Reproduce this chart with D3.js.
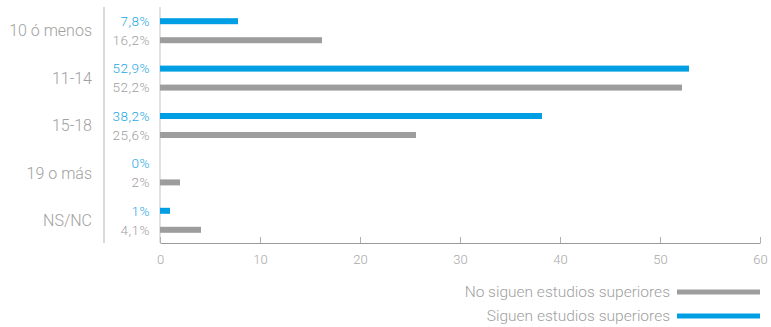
<!DOCTYPE html>
<html>
<head>
<meta charset="utf-8">
<script src="https://cdn.jsdelivr.net/npm/d3@7"></script>
<style>
  html, body { margin: 0; padding: 0; background: #fff; }
  svg { display: block; font-family: Roboto, "Liberation Sans", sans-serif; font-weight: 300; }
</style>
</head>
<body>
<svg id="chart" width="771" height="327"></svg>
<script>
// Age groups and the share (%) in each, for the two series
const categories = ["10 ó menos", "11-14", "15-18", "19 o más", "NS/NC"];
const siguen = [7.8, 52.9, 38.2, 0, 1];
const noSiguen = [16.2, 52.2, 25.6, 2, 4.1];
const siguenLabels = ["7,8%", "52,9%", "38,2%", "0%", "1%"];
const noSiguenLabels = ["16,2%", "52,2%", "25,6%", "2%", "4,1%"];
const xTicks = [0, 10, 20, 30, 40, 50, 60];
const seriesNames = ["No siguen estudios superiores", "Siguen estudios superiores"];

const BLUE = "#009fe3";
const BLUE_TEXT = "#26a9e2";
const GREY = "#9d9d9d";
const GREY_TEXT = "#a0a0a0";

const svg = d3.select("#chart");

const x = d3.scaleLinear().domain([0, 60]).range([160, 760]);
const y = d3.scaleBand().domain(categories).range([7, 244]);
const sub = d3.scalePoint().domain(["siguen", "no"]).range([-19, 19]).padding(0.5);
const barH = 6;

const rows = categories.map((c, i) => ({
  cat: c,
  siguen: siguen[i], no: noSiguen[i],
  siguenLabel: siguenLabels[i], noLabel: noSiguenLabels[i]
}));

// Left separator line and value axis line
svg.append("line")
  .attr("x1", 104).attr("x2", 104).attr("y1", 7).attr("y2", 243)
  .attr("stroke", "#b5b5b5").attr("stroke-width", 1);
svg.append("line")
  .attr("x1", x(0)).attr("x2", x(0)).attr("y1", 7).attr("y2", 243)
  .attr("stroke", "#c4c4c4").attr("stroke-width", 1);

// X axis with ticks pointing up
const xAxis = d3.axisBottom(x).tickValues(xTicks).tickSizeInner(-6).tickSizeOuter(0).tickPadding(12);
const gx = svg.append("g").attr("transform", "translate(0,243)").call(xAxis);
gx.select(".domain").attr("stroke", "#9a9a9a");
gx.selectAll(".tick line").attr("stroke", "#b0b0b0");
gx.selectAll(".tick text")
  .attr("fill", "#a8a8a8").attr("font-size", 13)
  .attr("font-family", "Roboto, sans-serif").attr("font-weight", 300);

const groups = svg.append("g").selectAll("g.grp").data(rows).join("g")
  .attr("class", "grp")
  .attr("transform", d => `translate(0,${y(d.cat) + y.bandwidth() / 2})`);

// Category labels
groups.append("text")
  .attr("x", 92).attr("y", 0).attr("dy", "0.35em")
  .attr("text-anchor", "end")
  .attr("font-size", 16)
  .attr("fill", GREY_TEXT)
  .text(d => d.cat);

// Bars
groups.append("rect")
  .attr("x", x(0)).attr("y", sub("siguen") - barH / 2)
  .attr("width", d => x(d.siguen) - x(0)).attr("height", barH)
  .attr("fill", BLUE);
groups.append("rect")
  .attr("x", x(0)).attr("y", sub("no") - barH / 2)
  .attr("width", d => x(d.no) - x(0)).attr("height", barH)
  .attr("fill", GREY);

// Value labels
groups.append("text")
  .attr("x", 150).attr("y", sub("siguen")).attr("dy", "0.35em")
  .attr("text-anchor", "end").attr("font-size", 13.5)
  .attr("letter-spacing", 0.5)
  .attr("fill", BLUE_TEXT)
  .text(d => d.siguenLabel);
groups.append("text")
  .attr("x", 150).attr("y", sub("no")).attr("dy", "0.35em")
  .attr("text-anchor", "end").attr("font-size", 13.5)
  .attr("letter-spacing", 0.5)
  .attr("fill", GREY_TEXT)
  .text(d => d.noLabel);

// Legend
const legend = svg.append("g").selectAll("g").data(seriesNames).join("g")
  .attr("transform", (d, i) => `translate(0,${292 + i * 24})`);
legend.append("text")
  .attr("x", 670).attr("y", 0).attr("dy", "0.35em")
  .attr("text-anchor", "end").attr("font-size", 15.5)
  .attr("fill", GREY_TEXT)
  .text(d => d);
legend.append("rect")
  .attr("x", 677).attr("y", -2.5).attr("width", 83).attr("height", 5)
  .attr("fill", (d, i) => i === 0 ? GREY : BLUE);
</script>
</body>
</html>
